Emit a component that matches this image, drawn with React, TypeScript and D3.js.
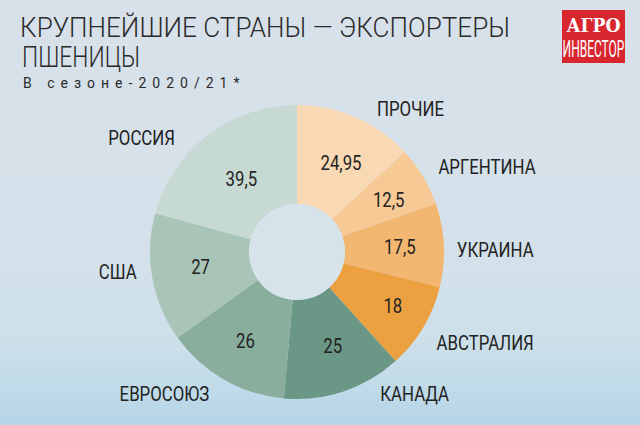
import React from "react";
import * as d3 from "d3";

const categories = ["ПРОЧИЕ", "АРГЕНТИНА", "УКРАИНА", "АВСТРАЛИЯ", "КАНАДА", "ЕВРОСОЮЗ", "США", "РОССИЯ"];
const values = [24.95, 12.5, 17.5, 18, 25, 26, 27, 39.5];
const valueLabels = ["24,95", "12,5", "17,5", "18", "25", "26", "27", "39,5"];
const colors = ["#f8d9b3", "#f6c995", "#f3b671", "#eca03f", "#6b9886", "#8aae9d", "#a8c5b8", "#c6dad3"];
// small layout nudges for outer labels (dx, dy)
const labelNudge: [number, number][] = [[14, 8], [0, 0], [-5, 6], [-2, 6], [31, -15], [-6, -1], [2, -9], [-22, 17]];
const valueNudge: [number, number][] = [[4, 3], [6, 0], [3, 0], [10, 3], [4, 0], [-2, 3], [2, -2], [5, 7]];

const W = 640, H = 425;
const cx = 297, cy = 252, rOuter = 147, rInner = 48;
const FONT = "Roboto, sans-serif";

function CText(props: { x: number; y: number; anchor?: string; sx?: number; size: number; weight?: number; fill?: string; children: React.ReactNode }) {
  const { x, y, anchor = "start", sx = 0.8, size, weight = 400, fill = "#222", children } = props;
  return (
    <g transform={`translate(${x},${y}) scale(${sx},1)`}>
      <text x={0} y={0} textAnchor={anchor} dominantBaseline="central" fontFamily={FONT} fontSize={size} fontWeight={weight} fill={fill}>
        {children}
      </text>
    </g>
  );
}

export default function App() {
  const pie = d3.pie<number>().sort(null).value((d) => d);
  const arcs = pie(values);
  const arc = d3.arc<d3.PieArcDatum<number>>().innerRadius(rInner).outerRadius(rOuter);
  const valArc = d3.arc<d3.PieArcDatum<number>>().innerRadius(100).outerRadius(100);
  const labArc = d3.arc<d3.PieArcDatum<number>>().innerRadius(165).outerRadius(165);

  return (
    <svg width={W} height={H} style={{ position: "absolute", left: 0, top: 0, display: "block" }}>
      <defs>
        <linearGradient id="bg" x1="0" y1="0" x2="0" y2="1">
          <stop offset="0" stopColor="#d8e1ea" />
          <stop offset="0.55" stopColor="#d5e1ea" />
          <stop offset="0.8" stopColor="#cde0ea" />
          <stop offset="1" stopColor="#b6d6e8" />
        </linearGradient>
      </defs>
      <rect x={0} y={0} width={W} height={H} fill="url(#bg)" />

      <text x={20} y={37} fontFamily={FONT} fontSize={28.5} fontWeight={300} fill="#2a2a2a" textLength={490} lengthAdjust="spacingAndGlyphs">
        КРУПНЕЙШИЕ СТРАНЫ — ЭКСПОРТЕРЫ
      </text>
      <text x={22} y={67} fontFamily={FONT} fontSize={29.5} fontWeight={300} fill="#2a2a2a" textLength={118} lengthAdjust="spacingAndGlyphs">
        ПШЕНИЦЫ
      </text>
      <text x={23} y={88} fontFamily={FONT} fontSize={14} letterSpacing={6} fill="#2a2a2a">
        В сезоне-2020/21*
      </text>

      <rect x={562} y={10} width={63} height={53} fill="#d8262f" />
      <text x={593.5} y={32} textAnchor="middle" fontFamily="'DejaVu Serif', serif" fontWeight="bold" fontSize={19} fill="#fff" textLength={54} lengthAdjust="spacingAndGlyphs">
        АГРО
      </text>
      <g transform="translate(593.5,56.5) scale(0.5,1)">
        <text x={0} y={0} textAnchor="middle" fontFamily={FONT} fontSize={24} fill="#fff">
          ИНВЕСТОР
        </text>
      </g>

      <g transform={`translate(${cx},${cy})`}>
        {arcs.map((a, i) => (
          <path key={i} d={arc(a) || ""} fill={colors[i]} />
        ))}
        <circle r={rInner} fill="#d6e3ea" />
        {arcs.map((a, i) => {
          const [x, y] = valArc.centroid(a);
          return (
            <CText key={"v" + i} x={x + valueNudge[i][0]} y={y + valueNudge[i][1]} anchor="middle" size={20} sx={0.84}>
              {valueLabels[i]}
            </CText>
          );
        })}
        {arcs.map((a, i) => {
          const [x, y] = labArc.centroid(a);
          const mid = (a.startAngle + a.endAngle) / 2;
          return (
            <CText key={"l" + i} x={x + labelNudge[i][0]} y={y + labelNudge[i][1]} anchor={mid < Math.PI ? "start" : "end"} size={21} sx={0.8}>
              {categories[i]}
            </CText>
          );
        })}
      </g>
    </svg>
  );
}
